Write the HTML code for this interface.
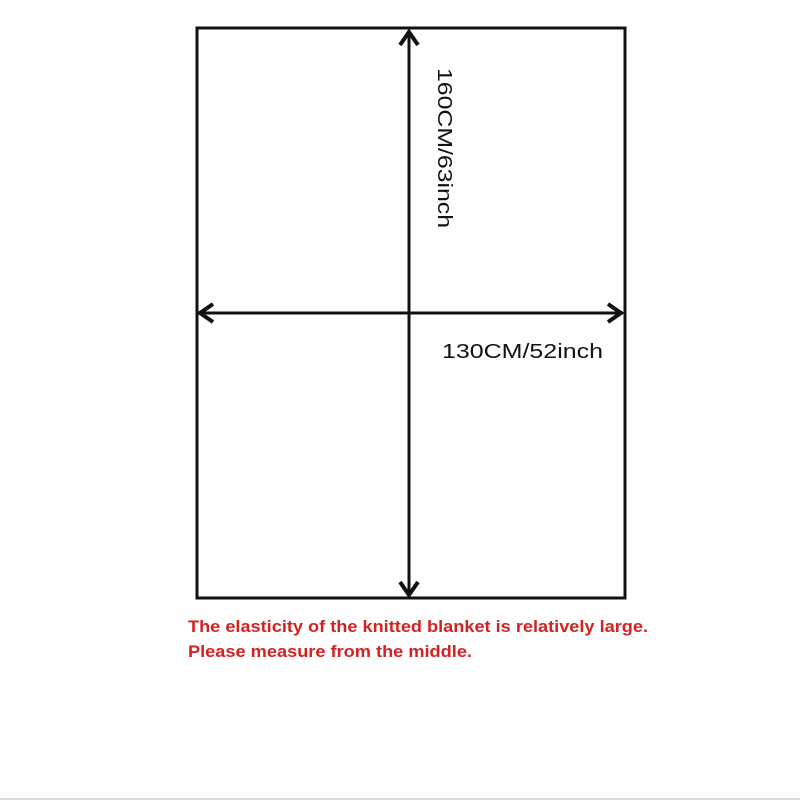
<!DOCTYPE html>
<html><head><style>
body{margin:0;width:800px;height:800px;background:#fff;overflow:hidden;font-family:"Liberation Sans",sans-serif}
</style></head><body>
<svg width="800" height="800" xmlns="http://www.w3.org/2000/svg" style="position:absolute;left:0;top:0">
<rect x="197" y="28" width="428" height="570" fill="none" stroke="#111" stroke-width="3"/>
<line x1="409" y1="30" x2="409" y2="596" stroke="#111" stroke-width="3"/>
<line x1="199" y1="313" x2="623" y2="313" stroke="#111" stroke-width="3"/>
<polyline points="400,45 409,32 418,45" fill="none" stroke="#111" stroke-width="4"/>
<polyline points="400,582 409,595 418,582" fill="none" stroke="#111" stroke-width="4"/>
<polyline points="213,304 200,313 213,322" fill="none" stroke="#111" stroke-width="4"/>
<polyline points="608,304 621,313 608,322" fill="none" stroke="#111" stroke-width="4"/>
<text transform="translate(438,68) rotate(90)" font-size="20" fill="#111" textLength="160" lengthAdjust="spacingAndGlyphs">160CM/63inch</text>
<text x="442" y="358" font-size="20" fill="#111" textLength="161" lengthAdjust="spacingAndGlyphs">130CM/52inch</text>
<text x="188" y="632" font-size="17" font-weight="bold" fill="#d42222" textLength="460" lengthAdjust="spacingAndGlyphs">The elasticity of the knitted blanket is relatively large.</text>
<text x="188" y="657" font-size="17" font-weight="bold" fill="#d42222" textLength="284" lengthAdjust="spacingAndGlyphs">Please measure from the middle.</text>
<line x1="0" y1="799" x2="800" y2="799" stroke="#ddd" stroke-width="2"/>
</svg>
</body></html>
